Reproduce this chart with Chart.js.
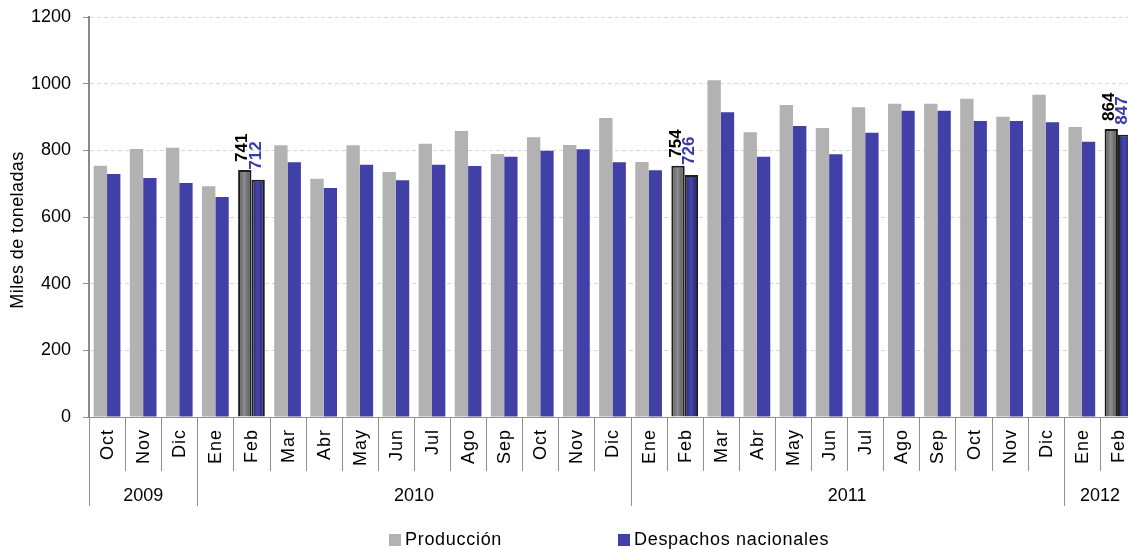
<!DOCTYPE html>
<html>
<head>
<meta charset="utf-8">
<script src="https://cdn.jsdelivr.net/npm/chart.js@4.4.1/dist/chart.umd.min.js"></script>
<style>
  html, body { margin:0; padding:0; background:#fff; overflow:hidden; }
  #wrap { width:1140px; height:549px; }
</style>
</head>
<body>
<div id="wrap"><canvas id="c" width="1140" height="549"></canvas></div>
<script>
// meses Oct 2009 - Feb 2012
const months = ['Oct','Nov','Dic',
  'Ene','Feb','Mar','Abr','May','Jun','Jul','Ago','Sep','Oct','Nov','Dic',
  'Ene','Feb','Mar','Abr','May','Jun','Jul','Ago','Sep','Oct','Nov','Dic',
  'Ene','Feb'];
const yearLabels = ['2009','2010','2011','2012'];
const yearSpans = [3, 12, 12, 2];
const produccion = [754,804,808, 692,741,815,715,815,735,820,858,789,839,816,897,
  765,754,1010,854,936,867,929,940,940,955,901,967, 870,864];
const despachos = [729,717,702, 660,712,764,687,757,710,757,753,781,799,803,764,
  740,726,914,781,873,788,853,919,919,888,888,884, 826,847];
const highlighted = [4,16,28];
const yTicks = [0,200,400,600,800,1000,1200];

const FONT = '"Liberation Sans", Arial, sans-serif';
const CAT_PCT = 0.74;

// relleno con degradado para los meses destacados
function fill(base, edge, mid, half) {
  return c => {
    if (!highlighted.includes(c.dataIndex)) return base;
    const x = c.chart.scales.x;
    const cx = x ? x.getPixelForValue(c.dataIndex) : NaN;
    if (!isFinite(cx) || !x.width) return edge;
    const bw = x.width / months.length * CAT_PCT / 2;
    const left = half === 0 ? cx - bw : cx;
    const g = c.chart.ctx.createLinearGradient(left, 0, left + bw, 0);
    g.addColorStop(0, edge);
    g.addColorStop(0.45, mid);
    g.addColorStop(1, edge);
    return g;
  };
}

const xRows = {
  id: 'xRows',
  afterDraw(chart) {
    const ctx = chart.ctx, x = chart.scales.x, y0 = chart.chartArea.bottom;
    const w = x.width / months.length;
    ctx.save();
    ctx.strokeStyle = '#909090';
    ctx.lineWidth = 1;
    let bounds = [0], acc = 0;
    for (const s of yearSpans) { acc += s; bounds.push(acc); }
    for (let i = 0; i <= months.length; i++) {
      const px = Math.round(x.getPixelForValue(i) - w / 2) + 0.5;
      const len = bounds.includes(i) ? 89 : 54;
      ctx.beginPath(); ctx.moveTo(px, y0); ctx.lineTo(px, y0 + len); ctx.stroke();
    }
    ctx.fillStyle = '#000';
    ctx.font = '18px ' + FONT;
    ctx.letterSpacing = '1px';
    ctx.textAlign = 'right';
    ctx.textBaseline = 'middle';
    months.forEach((m, i) => {
      ctx.save();
      ctx.translate(x.getPixelForValue(i) + 1, y0 + 12);
      ctx.rotate(-Math.PI / 2);
      ctx.fillText(m, 0, 0);
      ctx.restore();
    });
    ctx.letterSpacing = '0px';
    ctx.textAlign = 'center';
    for (let k = 0; k < yearLabels.length; k++) {
      const a = x.getPixelForValue(bounds[k]) - w / 2;
      const b = x.getPixelForValue(bounds[k + 1] - 1) + w / 2;
      ctx.fillText(yearLabels[k], (a + b) / 2, y0 + 79);
    }
    ctx.restore();
  }
};

const yTitle = {
  id: 'yTitle',
  afterDraw(chart) {
    const ctx = chart.ctx, a = chart.chartArea;
    ctx.save();
    ctx.font = '18px ' + FONT;
    ctx.letterSpacing = '0.4px';
    ctx.fillStyle = '#000';
    ctx.textAlign = 'center';
    ctx.textBaseline = 'middle';
    ctx.translate(18, (a.top + a.bottom) / 2 + 13);
    ctx.rotate(-Math.PI / 2);
    ctx.fillText('Miles de toneladas', 0, 0);
    ctx.restore();
  }
};

const valueLabels = {
  id: 'valueLabels',
  afterDatasetsDraw(chart) {
    const ctx = chart.ctx;
    const colors = ['#000000', '#3a3aa8'];
    const gaps = [8, 10];
    ctx.save();
    ctx.font = 'bold 17px ' + FONT;
    ctx.textAlign = 'left';
    ctx.textBaseline = 'middle';
    chart.data.datasets.forEach((ds, d) => {
      const meta = chart.getDatasetMeta(d);
      for (const i of highlighted) {
        const bar = meta.data[i];
        ctx.save();
        ctx.fillStyle = colors[d];
        ctx.translate(bar.x - 2, bar.y - gaps[d]);
        ctx.rotate(-Math.PI / 2);
        ctx.fillText(String(ds.data[i]), 0, 0);
        ctx.restore();
      }
    });
    ctx.restore();
  }
};

const legendRow = {
  id: 'legendRow',
  afterDraw(chart) {
    const ctx = chart.ctx;
    const spots = [389, 618];
    ctx.save();
    ctx.font = '18px ' + FONT;
    ctx.letterSpacing = '0.7px';
    ctx.textBaseline = 'middle';
    ctx.textAlign = 'left';
    chart.data.datasets.forEach((ds, d) => {
      ctx.fillStyle = ds.legendColor;
      ctx.fillRect(spots[d], 534, 12, 12);
      ctx.fillStyle = '#000';
      ctx.fillText(ds.label, spots[d] + 16, 540);
    });
    ctx.restore();
  }
};

new Chart(document.getElementById('c'), {
  type: 'bar',
  data: {
    labels: months,
    datasets: [
      {
        label: 'Producción',
        data: produccion,
        legendColor: '#b2b2b2',
        backgroundColor: fill('#b2b2b2', '#4e4e4e', '#8e8e8e', 0),
        borderColor: '#1c1c1c',
        borderWidth: c => highlighted.includes(c.dataIndex) ? 2 : 0
      },
      {
        label: 'Despachos nacionales',
        data: despachos,
        legendColor: '#4040a6',
        backgroundColor: fill('#4040a6', '#222268', '#4646ac', 1),
        borderColor: '#1c1c1c',
        borderWidth: c => highlighted.includes(c.dataIndex) ? 2 : 0
      }
    ]
  },
  options: {
    responsive: false,
    animation: false,
    devicePixelRatio: 1,
    categoryPercentage: CAT_PCT,
    barPercentage: 1.0,
    layout: { padding: { top: 17, left: 0, right: 4, bottom: 132 } },
    plugins: { legend: { display: false }, tooltip: { enabled: false } },
    scales: {
      x: {
        ticks: { display: false },
        grid: { display: false },
        border: { color: '#909090', width: 1 },
        afterFit: s => { s.height = 0; }
      },
      y: {
        min: 0, max: 1200,
        afterBuildTicks: s => { s.ticks = yTicks.map(v => ({ value: v })); },
        ticks: { color: '#000', font: { family: FONT, size: 18 }, padding: 12, callback: v => String(v) },
        grid: { color: '#d6d6d6', tickLength: 6, tickColor: '#909090', tickBorderDash: [] },
        border: { color: '#8a8a8a', width: 2, dash: [4, 3] },
        afterFit: s => { s.width = 89; s.paddingTop = 0; s.paddingBottom = 0; }
      }
    }
  },
  plugins: [xRows, yTitle, valueLabels, legendRow]
});
</script>
</body>
</html>
